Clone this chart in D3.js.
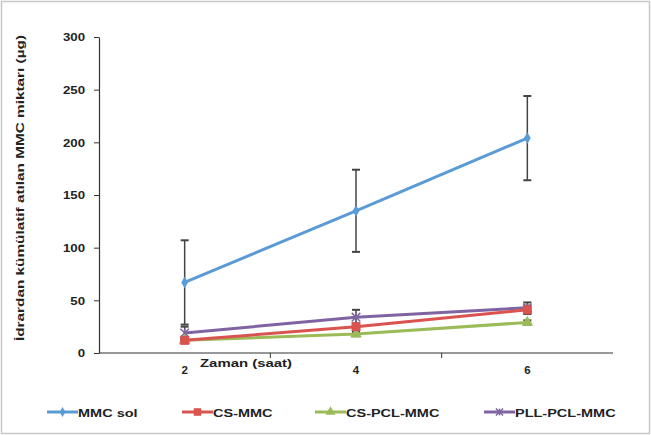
<!DOCTYPE html>
<html>
<head>
<meta charset="utf-8">
<script src="https://cdn.jsdelivr.net/npm/d3@7"></script>
<style>
  body { margin: 0; background: #fff; }
  svg { display: block; font-family: "Liberation Sans", Arial, sans-serif; }
</style>
</head>
<body>
<div id="chart"></div>
<script>
(function () {
    // Chart data
    const times = ["2", "4", "6"];
    const seriesNames = ["MMC sol", "CS-MMC", "CS-PCL-MMC", "PLL-PCL-MMC"];
    const mmcSol = [67, 135, 204];
    const mmcSolErr = [40, 39, 40];
    const csMmc = [12, 25, 41];
    const csMmcErr = [2, 3, 4];
    const csPclMmc = [12, 18, 29];
    const csPclMmcErr = [1, 2, 2];
    const pllPclMmc = [19, 34, 43];
    const pllPclMmcErr = [6, 7, 5];
    const yTicks = [0, 50, 100, 150, 200, 250, 300];

    const colors = ["#5B9BD5", "#D9534F", "#9BBB59", "#8064A2"];
    const shapes = ["diamond", "square", "triangle", "cross"];

    const series = seriesNames.map((name, i) => ({
        name: name,
        values: [mmcSol, csMmc, csPclMmc, pllPclMmc][i],
        errs: [mmcSolErr, csMmcErr, csPclMmcErr, pllPclMmcErr][i],
        color: colors[i],
        shape: shapes[i]
    }));

    const width = 651, height = 435;
    const svg = d3.select("#chart").append("svg")
        .attr("width", width).attr("height", height);

    // the source picture is a bit stretched sideways, so widen text to match
    function stretch(sel, k) {
        sel.each(function () {
            const w = this.getComputedTextLength();
            d3.select(this).attr("textLength", w * k).attr("lengthAdjust", "spacingAndGlyphs");
        });
    }

    // outer frame
    svg.append("rect")
        .attr("x", 1.5).attr("y", 1.5)
        .attr("width", width - 3).attr("height", height - 3)
        .attr("fill", "#fff").attr("stroke", "#c8c8c8").attr("stroke-width", 1.5);

    const left = 99, right = 613, top = 37, bottom = 353;

    const x = d3.scaleBand().domain(times).range([left, right]);
    const y = d3.scaleLinear().domain([0, 300]).range([bottom, top]);

    // y axis
    const yAxis = svg.append("g")
        .attr("transform", `translate(${left},0)`)
        .call(d3.axisLeft(y).tickValues(yTicks).tickSize(5).tickSizeOuter(0));
    yAxis.select(".domain").attr("stroke", "#333").attr("stroke-width", 1.2);
    yAxis.selectAll(".tick line").attr("stroke", "#333");
    yAxis.selectAll("text").attr("font-size", 11.5).attr("font-weight", "bold")
        .attr("fill", "#222").attr("x", -14).attr("text-anchor", "end");
    stretch(yAxis.selectAll("text"), 1.15);

    // x axis: ticks at band boundaries, labels at centres
    const xg = svg.append("g").attr("transform", `translate(0,${bottom})`);
    xg.append("line").attr("x1", left).attr("x2", right)
        .attr("stroke", "#333").attr("stroke-width", 1.2);
    xg.selectAll(".bt").data(times.slice(1)).enter().append("line")
        .attr("x1", d => x(d)).attr("x2", d => x(d))
        .attr("y1", 0).attr("y2", 5).attr("stroke", "#333");
    xg.selectAll(".lbl").data(times).enter().append("text")
        .attr("x", d => x(d) + x.bandwidth() / 2)
        .attr("y", 21)
        .attr("text-anchor", "middle")
        .attr("font-size", 11.5).attr("font-weight", "bold").attr("fill", "#222")
        .text(d => d);

    svg.append("text")
        .attr("x", 200).attr("y", 367)
        .attr("font-size", 11.5).attr("font-weight", "bold").attr("fill", "#222")
        .attr("textLength", 92).attr("lengthAdjust", "spacingAndGlyphs")
        .text("Zaman (saat)");

    svg.append("text")
        .attr("transform", "translate(24,188) rotate(-90)")
        .attr("text-anchor", "middle")
        .attr("font-size", 11.5).attr("font-weight", "bold").attr("fill", "#222")
        .attr("textLength", 306).attr("lengthAdjust", "spacingAndGlyphs")
        .text("İdrardan kümülatif atılan MMC miktarı (µg)");

    const cx = d => x(d) + x.bandwidth() / 2;

    // error bars
    series.forEach(s => {
        const g = svg.append("g");
        times.forEach((t, i) => {
            const v = s.values[i], e = s.errs[i];
            g.append("line").attr("x1", cx(t)).attr("x2", cx(t))
                .attr("y1", y(v - e)).attr("y2", y(v + e))
                .attr("stroke", "#444").attr("stroke-width", 1.5);
            [v - e, v + e].forEach(w => {
                g.append("line").attr("x1", cx(t) - 4).attr("x2", cx(t) + 4)
                    .attr("y1", y(w)).attr("y2", y(w))
                    .attr("stroke", "#444").attr("stroke-width", 2);
            });
        });
    });

    // marker drawing helper
    function marker(g, shape, color, px, py, scale) {
        const k = scale || 1;
        if (shape === "diamond") {
            g.append("path").attr("d", d3.symbol(d3.symbolDiamond, 40 * k)())
                .attr("transform", `translate(${px},${py})`).attr("fill", color);
        } else if (shape === "square") {
            const h = 4.5 * Math.sqrt(k);
            g.append("rect").attr("x", px - h).attr("y", py - h)
                .attr("width", 2 * h).attr("height", 2 * h).attr("fill", color);
        } else if (shape === "triangle") {
            g.append("path").attr("d", d3.symbol(d3.symbolTriangle, 60 * k)())
                .attr("transform", `translate(${px},${py})`).attr("fill", color);
        } else {
            g.append("path").attr("d", d3.symbol(d3.symbolX, 50 * k)())
                .attr("transform", `translate(${px},${py})`)
                .attr("stroke", color).attr("stroke-width", 1.5).attr("fill", "none");
            g.append("line").attr("x1", px).attr("x2", px)
                .attr("y1", py - 4 * Math.sqrt(k)).attr("y2", py + 4 * Math.sqrt(k))
                .attr("stroke", color).attr("stroke-width", 1.5);
        }
    }

    const line = d3.line().x((d, i) => cx(times[i])).y(d => y(d));

    // draw back to front
    [3, 2, 1, 0].forEach(k => {
        const s = series[k];
        const g = svg.append("g");
        g.append("path").datum(s.values).attr("d", line)
            .attr("fill", "none").attr("stroke", s.color).attr("stroke-width", 3);
        s.values.forEach((v, i) => marker(g, s.shape, s.color, cx(times[i]), y(v)));
    });

    // legend
    const legendX = [47, 182, 315, 484];
    const legend = svg.append("g").attr("transform", "translate(0,412)");
    series.forEach((s, i) => {
        const g = legend.append("g").attr("transform", `translate(${legendX[i]},0)`);
        g.append("line").attr("x1", 0).attr("x2", 31).attr("y1", 0).attr("y2", 0)
            .attr("stroke", s.color).attr("stroke-width", 3);
        marker(g, s.shape, s.color, 15.5, 0, 0.7);
        g.append("text").attr("x", 31).attr("y", 4.5)
            .attr("font-size", 11.5).attr("font-weight", "bold").attr("fill", "#222")
            .text(s.name);
    });
    stretch(legend.selectAll("text"), 1.26);
})();
</script>
</body>
</html>
